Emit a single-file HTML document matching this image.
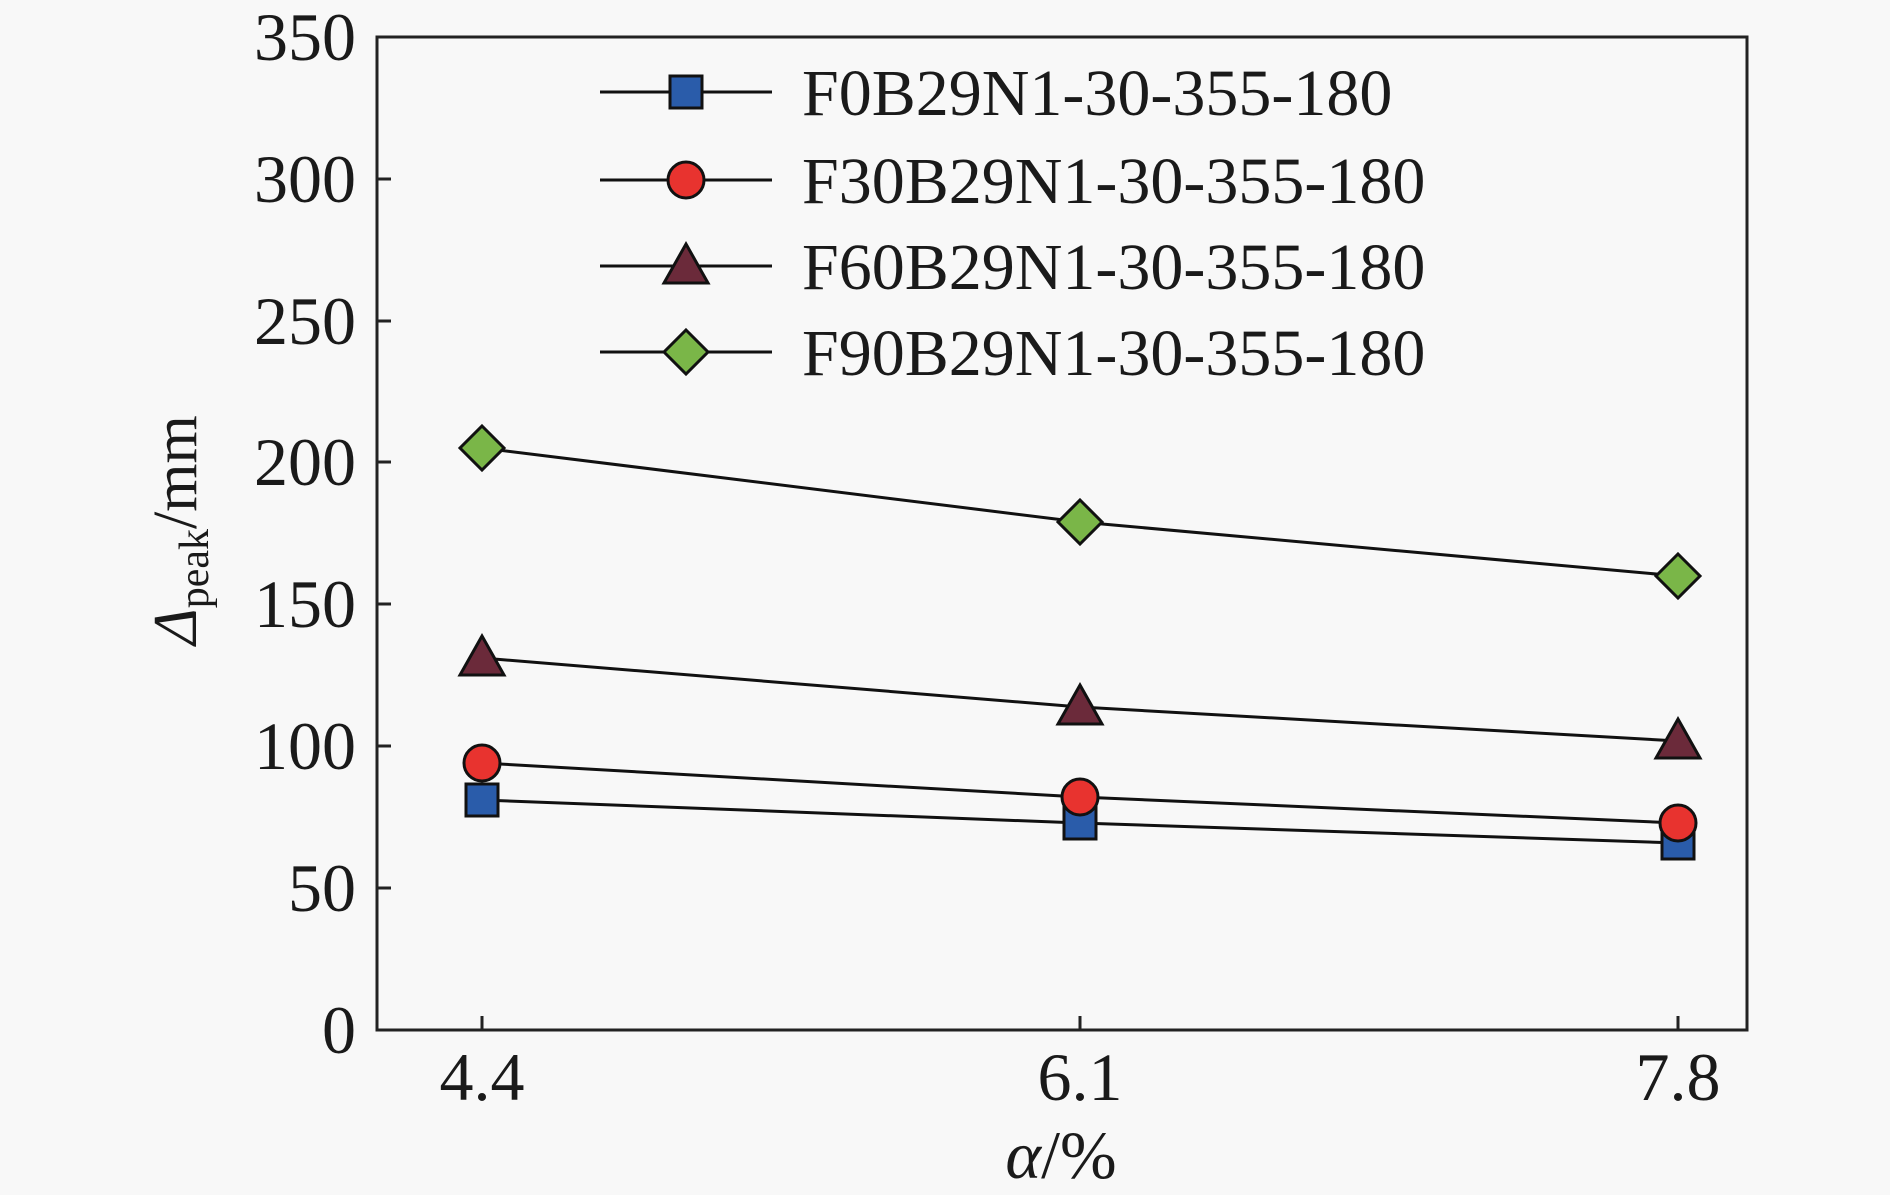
<!DOCTYPE html>
<html><head><meta charset="utf-8"><style>
html,body{margin:0;padding:0;background:#f8f8f8;}
svg{display:block;}
text{font-family:"Liberation Serif",serif;fill:#1a1a1a;}
</style></head><body>
<svg width="1890" height="1195" viewBox="0 0 1890 1195" xmlns="http://www.w3.org/2000/svg">
<rect width="1890" height="1195" fill="#f8f8f8"/>
<g stroke="#222" stroke-width="3" fill="none">
<rect x="377" y="37" width="1370" height="993"/>
<path d="M377 888h14M377 746h14M377 604h14M377 462h14M377 321h14M377 179h14"/>
<path d="M482 1030v-14M1080 1030v-14M1678 1030v-14"/>
</g>
<g font-size="68" text-anchor="end">
<text x="356" y="1053">0</text>
<text x="356" y="911">50</text>
<text x="356" y="769">100</text>
<text x="356" y="627">150</text>
<text x="356" y="485">200</text>
<text x="356" y="344">250</text>
<text x="356" y="202">300</text>
<text x="356" y="60">350</text>
</g>
<g font-size="68" text-anchor="middle">
<text x="482" y="1100">4.4</text>
<text x="1080" y="1100">6.1</text>
<text x="1678" y="1100">7.8</text>
<text x="1061" y="1178"><tspan font-style="italic">α</tspan>/%</text>
</g>
<text transform="translate(196,530) rotate(-90)" font-size="62" text-anchor="middle"><tspan font-style="italic">Δ</tspan><tspan font-size="42" dy="12">peak</tspan><tspan dy="-12">/mm</tspan></text>
<g stroke="#111" stroke-width="3" fill="none">
<polyline points="482,800 1080,823 1678,843"/>
<polyline points="482,763 1080,797 1678,823"/>
<polyline points="482,658 1080,707 1678,741"/>
<polyline points="482,448 1080,522 1678,576"/>
<path d="M600 92h172M600 180h172M600 266h172M600 352h172"/>
</g>
<defs>
<rect id="sq" x="-16" y="-16" width="32" height="32" fill="#2a5caa" stroke="#111" stroke-width="3"/>
<circle id="ci" r="18" fill="#e8332f" stroke="#111" stroke-width="3"/>
<polygon id="tr" points="0,-22 22,17 -22,17" fill="#6b2a3a" stroke="#111" stroke-width="3"/>
<polygon id="di" points="0,-22 22,0 0,22 -22,0" fill="#7ab648" stroke="#111" stroke-width="3"/>
</defs>
<use href="#sq" x="482" y="800"/><use href="#sq" x="1080" y="823"/><use href="#sq" x="1678" y="843"/>
<use href="#ci" x="482" y="763"/><use href="#ci" x="1080" y="797"/><use href="#ci" x="1678" y="823"/>
<use href="#tr" x="482" y="658"/><use href="#tr" x="1080" y="707"/><use href="#tr" x="1678" y="741"/>
<use href="#di" x="482" y="448"/><use href="#di" x="1080" y="522"/><use href="#di" x="1678" y="576"/>
<use href="#sq" x="686" y="92"/><use href="#ci" x="686" y="180"/><use href="#tr" x="686" y="266"/><use href="#di" x="686" y="352"/>
<g font-size="66">
<text x="802" y="115">F0B29N1-30-355-180</text>
<text x="802" y="203">F30B29N1-30-355-180</text>
<text x="802" y="289">F60B29N1-30-355-180</text>
<text x="802" y="375">F90B29N1-30-355-180</text>
</g>
</svg>
</body></html>
